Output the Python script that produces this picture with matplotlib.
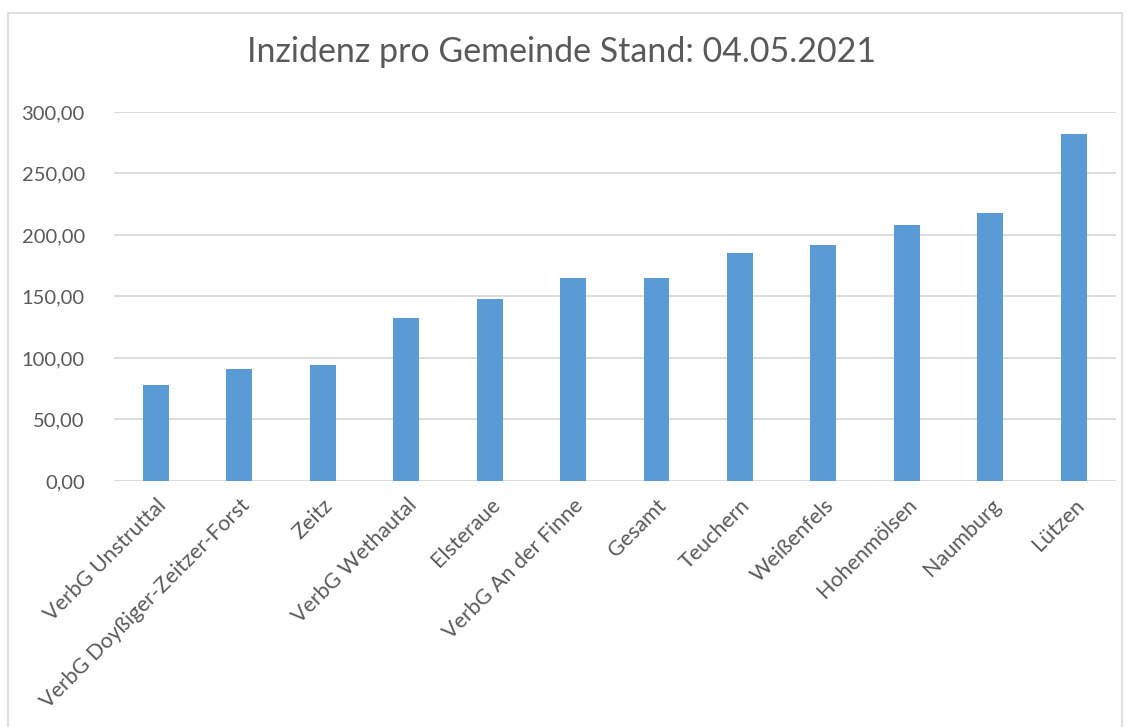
import matplotlib
matplotlib.use("Agg")
import matplotlib.pyplot as plt
from matplotlib.patches import Rectangle
from matplotlib.ticker import FuncFormatter

# Daten
gemeinden = [
    "VerbG Unstruttal", "VerbG Doyßiger-Zeitzer-Forst", "Zeitz", "VerbG Wethautal",
    "Elsteraue", "VerbG An der Finne", "Gesamt", "Teuchern", "Weißenfels",
    "Hohenmölsen", "Naumburg", "Lützen",
]
inzidenz = [78.4, 90.9, 93.9, 132.3, 147.8, 164.7, 164.7, 185.4, 191.7, 208.0, 217.8, 281.8]
y_ticks = [0, 50, 100, 150, 200, 250, 300]

textfarbe = "#595959"
plt.rcParams['font.family'] = ['Lato', 'DejaVu Sans']

fig = plt.figure(figsize=(11.31, 7.27), dpi=100)
ax = fig.add_axes([0.1008, 0.3384, 0.8855, 0.5076])

# Rahmen um das Diagramm
fig.patches.append(Rectangle((8 / 1131, -0.05), 1114 / 1131, 1 - 13 / 727 + 0.05,
                             transform=fig.transFigure, fill=False,
                             edgecolor="#D9D9D9", linewidth=1.2))

x = range(len(gemeinden))
ax.bar(x, inzidenz, width=0.31, color="#5B9BD5", zorder=3)

ax.set_ylim(0, 300)
ax.set_xlim(-0.5, len(gemeinden) - 0.5)
ax.set_yticks(y_ticks)
ax.yaxis.set_major_formatter(FuncFormatter(lambda v, p: "{:.2f}".format(v).replace(".", ",")))
ax.grid(axis="y", color="#D9D9D9", linewidth=1.3, zorder=0)

ax.set_xticks(list(x))
ax.set_xticklabels(gemeinden, rotation=45, ha="right", rotation_mode="anchor")

for s in ax.spines.values():
    s.set_visible(False)
ax.tick_params(axis="both", length=0, colors=textfarbe)
ax.tick_params(axis="y", pad=21, labelsize=14.5)
ax.tick_params(axis="x", pad=10, labelsize=15.5)

fig.text(0.4965, 0.928, "Inzidenz pro Gemeinde Stand: 04.05.2021",
         ha="center", va="center", fontsize=24.5, color=textfarbe)

fig.savefig("out.png", dpi=100)
